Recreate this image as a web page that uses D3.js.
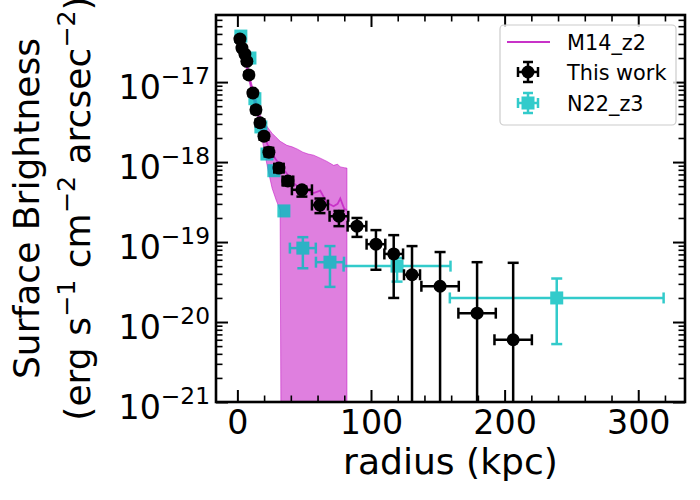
<!DOCTYPE html>
<html>
<head>
<meta charset="utf-8">
<script src="https://cdn.jsdelivr.net/npm/d3@7"></script>
<style>
  body { margin: 0; background: #fff; }
  svg { font-family: "DejaVu Sans", sans-serif; }
</style>
</head>
<body>
<script>
// M14_z2 model: radius grid, median and band (0 = no lower bound)
const m14Radius = [1, 4, 7, 10, 13, 17, 20, 23, 26, 29, 32, 33, 37, 41, 45, 49, 53, 57, 62, 67, 72, 75, 77, 80, 82];
const m14Value = [3.35e-17, 2.4e-17, 1.62e-17, 9.5e-18, 6.0e-18, 3.16e-18, 2.19e-18, 1.58e-18, 1.26e-18, 1.07e-18, 9.1e-19, 8.7e-19, 7.2e-19, 5.6e-19, 5.0e-19, 4.7e-19, 4.4e-19, 4.1e-19, 4.4e-19, 3.1e-19, 2.8e-19, 3.0e-19, 3.5e-19, 2.6e-19, 2.5e-19];
const m14Upper = [3.8e-17, 2.82e-17, 1.88e-17, 1.05e-17, 7.08e-18, 3.89e-18, 3.16e-18, 2.66e-18, 2.29e-18, 2.04e-18, 1.82e-18, 1.78e-18, 1.62e-18, 1.55e-18, 1.45e-18, 1.33e-18, 1.26e-18, 1.22e-18, 1.12e-18, 1.02e-18, 9.1e-19, 9.4e-19, 8.7e-19, 8.5e-19, 8.4e-19];
const m14Lower = [2.99e-17, 2.09e-17, 1.41e-17, 8.3e-18, 5.0e-18, 2.66e-18, 1.41e-18, 7.9e-19, 4.7e-19, 3.35e-19, 2.5e-19, 0, 0, 0, 0, 0, 0, 0, 0, 0, 0, 0, 0, 0, 0];

// This work
const workRadius = [1.9, 3.4, 5.6, 7.1, 8.6, 11.6, 13.9, 16.9, 19.9, 23.6, 31.1, 37.8, 48.3, 61.8, 76, 89.5, 103.7, 117, 130.7, 151.7, 179.4, 206.4];
const workRadiusErr = [0.7, 0.7, 0.7, 0.7, 0.7, 1, 1, 1, 1.5, 2.5, 3.5, 4, 7.5, 6, 7, 7, 7, 7, 6, 14, 14, 14];
const workSB = [3.45e-17, 2.66e-17, 2.24e-17, 1.82e-17, 1.23e-17, 7.3e-18, 4.5e-18, 3.1e-18, 2.11e-18, 1.33e-18, 8.4e-19, 5.8e-19, 4.5e-19, 2.9e-19, 2.1e-19, 1.58e-19, 9.4e-20, 7.1e-20, 3.9e-20, 2.8e-20, 1.29e-20, 6.0e-21];
const workSBHigh = [3.7e-17, 2.85e-17, 2.4e-17, 1.95e-17, 1.33e-17, 7.9e-18, 4.9e-18, 3.4e-18, 2.3e-18, 1.5e-18, 9.4e-19, 6.5e-19, 4.9e-19, 3.5e-19, 2.45e-19, 2.0e-19, 1.41e-19, 1.22e-19, 8.9e-20, 7.5e-20, 5.6e-20, 5.5e-20];
const workSBLow = [3.2e-17, 2.5e-17, 2.1e-17, 1.7e-17, 1.13e-17, 6.7e-18, 4.1e-18, 2.8e-18, 1.9e-18, 1.18e-18, 7.5e-19, 5.1e-19, 3.7e-19, 2.3e-19, 1.58e-19, 1.16e-19, 4.5e-20, 2.0e-20, 0, 0, 0, 0];

// N22_z3
const n22Radius = [2.6, 9.4, 13.1, 17.6, 22.1, 27.3, 34.8, 49, 69.3, 119.5, 239];
const n22RadiusErr = [0.5, 0.5, 0.5, 0.5, 0.5, 0.5, 0.5, 9.7, 10.5, 40, 80];
const n22SB = [3.76e-17, 2.0e-17, 6.2e-18, 2.75e-18, 1.26e-18, 7.8e-19, 2.45e-19, 8.4e-20, 5.6e-20, 5.0e-20, 2.0e-20];
const n22SBHigh = [3.9e-17, 2.1e-17, 6.5e-18, 2.9e-18, 1.32e-18, 8.2e-19, 2.6e-19, 1.15e-19, 8.9e-20, 6.3e-20, 3.5e-20];
const n22SBLow = [3.6e-17, 1.9e-17, 5.9e-18, 2.6e-18, 1.2e-18, 7.4e-19, 2.3e-19, 4.7e-20, 2.75e-20, 3.2e-20, 5.3e-21];

const xTicks = [0, 100, 200, 300];
const yTicks = [1e-21, 1e-20, 1e-19, 1e-18, 1e-17];

const W = 700, H = 500;
const pLeft = 216, pRight = 685, pTop = 15, pBottom = 402;
const tickFont = 33.3, labelFont = 36.1;

const svg = d3.select("body").append("svg").attr("width", W).attr("height", H);

const x = d3.scaleLinear().domain([-16, 335]).range([pLeft, pRight]);
const y = d3.scaleLog().domain([1e-21, 6.9e-17]).range([pBottom, pTop]);
const yMin = 1e-23; // below the axis, gets clipped
const yv = (v) => y(v > 0 ? v : yMin);

svg.append("clipPath").attr("id", "plot")
  .append("rect").attr("x", pLeft).attr("y", pTop).attr("width", pRight - pLeft).attr("height", pBottom - pTop);

const plot = svg.append("g").attr("clip-path", "url(#plot)");

// band
const band = m14Radius.map((r, i) => ({ r, lo: m14Lower[i], hi: m14Upper[i], v: m14Value[i] }));
plot.append("path")
  .datum(band)
  .attr("d", d3.area().x((d) => x(d.r)).y0((d) => yv(d.lo)).y1((d) => yv(d.hi)))
  .attr("fill", "#bf00bf").attr("fill-opacity", 0.5)
  .attr("stroke", "#bf00bf").attr("stroke-opacity", 0.5).attr("stroke-width", 1);

plot.append("path")
  .datum(band)
  .attr("d", d3.line().x((d) => x(d.r)).y((d) => yv(d.v)))
  .attr("fill", "none").attr("stroke", "#c832c8").attr("stroke-width", 1.8);

function errorbars(g, pts, color, lw, cap) {
  pts.forEach((d) => {
    const cx = x(d.r), cy = y(d.v);
    const yt = yv(d.hi), yb = yv(d.lo);
    const xl = x(d.r - d.xe), xr = x(d.r + d.xe);
    const s = g.append("g").attr("stroke", color).attr("stroke-width", lw);
    s.append("line").attr("x1", xl).attr("x2", xr).attr("y1", cy).attr("y2", cy);
    s.append("line").attr("x1", cx).attr("x2", cx).attr("y1", yt).attr("y2", yb);
    s.append("line").attr("x1", xl).attr("x2", xl).attr("y1", cy - cap).attr("y2", cy + cap);
    s.append("line").attr("x1", xr).attr("x2", xr).attr("y1", cy - cap).attr("y2", cy + cap);
    s.append("line").attr("x1", cx - cap).attr("x2", cx + cap).attr("y1", yt).attr("y2", yt);
    s.append("line").attr("x1", cx - cap).attr("x2", cx + cap).attr("y1", yb).attr("y2", yb);
  });
}

const n22 = n22Radius.map((r, i) => ({ r, xe: n22RadiusErr[i], v: n22SB[i], hi: n22SBHigh[i], lo: n22SBLow[i] }));
const cyanG = plot.append("g").attr("opacity", 0.8);
errorbars(cyanG, n22, "#00bfbf", 2.5, 5.5);
cyanG.selectAll("rect.m").data(n22).enter().append("rect")
  .attr("x", (d) => x(d.r) - 6.5).attr("y", (d) => y(d.v) - 6.5)
  .attr("width", 13).attr("height", 13).attr("fill", "#00bfbf");

const work = workRadius.map((r, i) => ({ r, xe: workRadiusErr[i], v: workSB[i], hi: workSBHigh[i], lo: workSBLow[i] }));
const blackG = plot.append("g");
errorbars(blackG, work, "#000", 2.5, 5.5);
blackG.selectAll("circle").data(work).enter().append("circle")
  .attr("cx", (d) => x(d.r)).attr("cy", (d) => y(d.v)).attr("r", 6.5).attr("fill", "#000");

// axes, ticks pointing inward on all four sides
const xMinor = d3.range(-0, 340, 20).filter((v) => v % 100 !== 0);
const yMinor = [];
for (let e = -21; e <= -17; e++) for (let k = 2; k <= 9; k++) {
  const v = k * Math.pow(10, e);
  if (v <= 6.9e-17) yMinor.push(v);
}

function styleAxis(g, w) {
  g.attr("font-family", null).attr("font-size", null);
  g.select(".domain").remove();
  g.selectAll(".tick line").attr("stroke-width", w);
}

svg.append("g").attr("transform", `translate(0,${pBottom})`)
  .call(d3.axisBottom(x).tickValues(xTicks).tickSize(-12).tickPadding(8).tickFormat(d3.format("d")))
  .call((g) => styleAxis(g, 2))
  .selectAll("text").attr("font-size", tickFont).attr("fill", "#000");
svg.append("g").attr("transform", `translate(0,${pBottom})`)
  .call(d3.axisBottom(x).tickValues(xMinor).tickSize(-6.5).tickFormat(""))
  .call((g) => styleAxis(g, 1.6));
svg.append("g").attr("transform", `translate(0,${pTop})`)
  .call(d3.axisTop(x).tickValues(xTicks).tickSize(-12).tickFormat(""))
  .call((g) => styleAxis(g, 2));
svg.append("g").attr("transform", `translate(0,${pTop})`)
  .call(d3.axisTop(x).tickValues(xMinor).tickSize(-6.5).tickFormat(""))
  .call((g) => styleAxis(g, 1.6));

const yAxisG = svg.append("g").attr("transform", `translate(${pLeft},0)`)
  .call(d3.axisLeft(y).tickValues(yTicks).tickSize(-12).tickFormat(""))
  .call((g) => styleAxis(g, 2));
yAxisG.selectAll(".tick text").remove();
yAxisG.selectAll(".tick").append("text")
  .attr("x", -6).attr("y", 16).attr("text-anchor", "end").attr("fill", "#000")
  .attr("font-size", tickFont)
  .each(function (d) {
    const t = d3.select(this);
    t.append("tspan").text("10");
    t.append("tspan").attr("font-size", 23.3).attr("dy", -15)
      .text("\u2212" + Math.round(-Math.log10(d)));
  });
svg.append("g").attr("transform", `translate(${pLeft},0)`)
  .call(d3.axisLeft(y).tickValues(yMinor).tickSize(-6.5).tickFormat(""))
  .call((g) => styleAxis(g, 1.6));
svg.append("g").attr("transform", `translate(${pRight},0)`)
  .call(d3.axisRight(y).tickValues(yTicks).tickSize(-12).tickFormat(""))
  .call((g) => styleAxis(g, 2));
svg.append("g").attr("transform", `translate(${pRight},0)`)
  .call(d3.axisRight(y).tickValues(yMinor).tickSize(-6.5).tickFormat(""))
  .call((g) => styleAxis(g, 1.6));

// frame
svg.append("rect").attr("x", pLeft).attr("y", pTop).attr("width", pRight - pLeft).attr("height", pBottom - pTop)
  .attr("fill", "none").attr("stroke", "#000").attr("stroke-width", 2.6);

// axis labels
svg.append("text").attr("x", (pLeft + pRight) / 2).attr("y", 474).attr("text-anchor", "middle")
  .attr("font-size", labelFont).text("radius (kpc)");

const yc = (pTop + pBottom) / 2;
svg.append("text").attr("transform", `translate(39,${yc}) rotate(-90)`).attr("text-anchor", "middle")
  .attr("font-size", labelFont).text("Surface Brightness");
const yl2 = svg.append("text").attr("transform", `translate(90,${yc}) rotate(-90)`).attr("text-anchor", "middle")
  .attr("font-size", labelFont);
[["(erg s", null], ["\u22121", "sup"], [" cm", null], ["\u22122", "sup"], [" arcsec", null], ["\u22122", "sup"], [")", null]]
  .forEach(([s, kind], i, arr) => {
    const ts = yl2.append("tspan").text(s);
    if (kind === "sup") ts.attr("font-size", 25.3).attr("dy", -15);
    else if (i > 0 && arr[i - 1][1] === "sup") ts.attr("dy", 15);
  });

// legend
const lg = svg.append("g");
lg.append("rect").attr("x", 500).attr("y", 25).attr("width", 176).attr("height", 100).attr("rx", 4)
  .attr("fill", "#fff").attr("fill-opacity", 0.8).attr("stroke", "#cccccc").attr("stroke-width", 1.2);
const legendItems = ["M14_z2", "This work", "N22_z3"];
const legendY = [42, 72, 103];
lg.append("line").attr("x1", 507).attr("x2", 550).attr("y1", legendY[0]).attr("y2", legendY[0])
  .attr("stroke", "#c832c8").attr("stroke-width", 1.8);
function legendGlyph(cy, color, marker, opacity) {
  const g = lg.append("g").attr("opacity", opacity);
  const cx = 528;
  const s = g.append("g").attr("stroke", color).attr("stroke-width", 2.5);
  s.append("line").attr("x1", cx - 10).attr("x2", cx + 10).attr("y1", cy).attr("y2", cy);
  s.append("line").attr("x1", cx).attr("x2", cx).attr("y1", cy - 10).attr("y2", cy + 10);
  [-10, 10].forEach((o) => {
    s.append("line").attr("x1", cx + o).attr("x2", cx + o).attr("y1", cy - 5).attr("y2", cy + 5);
    s.append("line").attr("x1", cx - 5).attr("x2", cx + 5).attr("y1", cy + o).attr("y2", cy + o);
  });
  if (marker === "circle") g.append("circle").attr("cx", cx).attr("cy", cy).attr("r", 6.5).attr("fill", color);
  else g.append("rect").attr("x", cx - 6.5).attr("y", cy - 6.5).attr("width", 13).attr("height", 13).attr("fill", color);
}
legendGlyph(legendY[1], "#000", "circle", 1);
legendGlyph(legendY[2], "#00bfbf", "square", 0.8);
lg.selectAll("text.lab").data(legendItems).enter().append("text")
  .attr("x", 567).attr("y", (d, i) => legendY[i] + 7.5).attr("font-size", 20.8).text((d) => d);
</script>
</body>
</html>
